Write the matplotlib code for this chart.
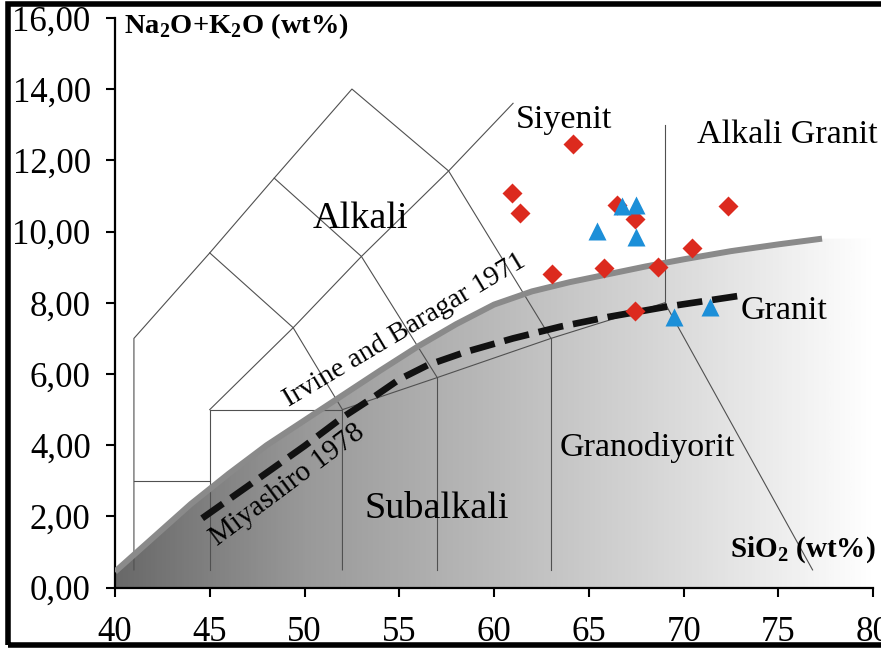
import numpy as np
import matplotlib
matplotlib.use("Agg")
import matplotlib.pyplot as plt
from matplotlib.colors import LinearSegmentedColormap
from matplotlib.patches import Polygon, Rectangle

plt.rcParams['font.family'] = ['Liberation Serif', 'DejaVu Serif']

# örnekler (SiO2, Na2O+K2O)
red_sio2 = [64.15, 60.97, 61.37, 66.47, 67.44, 72.36, 70.43, 68.62, 65.80, 63.04, 67.44]
red_alk = [12.46, 11.09, 10.53, 10.74, 10.34, 10.72, 9.53, 9.01, 8.97, 8.81, 7.78]
blue_sio2 = [66.74, 67.48, 65.45, 67.48, 69.50, 71.40]
blue_alk = [10.72, 10.74, 10.02, 9.85, 7.59, 7.89]

# Irvine and Baragar 1971 ayrım eğrisi
ib_sio2 = [40, 42, 44, 46, 48, 50, 52, 54, 56, 58, 60, 62, 64, 66, 68, 70, 72.5, 75, 77.3]
ib_alk = [0.45, 1.4, 2.35, 3.2, 4.0, 4.7, 5.4, 6.1, 6.78, 7.4, 7.95, 8.32, 8.58, 8.8,
          9.02, 9.22, 9.45, 9.64, 9.8]

# Miyashiro 1978 ayrım eğrisi
my_sio2 = [44.6, 47.0, 50.0, 52.0, 53.5, 55.0, 56.5, 58.5, 61.0, 63.5, 66.0, 69.0, 73.0]
my_alk = [1.95, 2.85, 3.98, 4.78, 5.3, 5.85, 6.25, 6.62, 7.0, 7.33, 7.6, 7.88, 8.2]

# TAS alan sınırları
tas_lines = [
    [(41, 0.5), (41, 7), (45, 9.4), (48.4, 11.5), (52.5, 14), (57.6, 11.7), (63, 7)],
    [(41, 3), (45, 3)],
    [(45, 0.5), (45, 5), (52, 5)],
    [(45, 5), (49.4, 7.3), (53, 9.3), (57.6, 11.7), (61, 13.6)],
    [(45, 9.4), (49.4, 7.3), (52, 5)],
    [(48.4, 11.5), (53, 9.3), (57, 5.9)],
    [(52, 0.5), (52, 5), (57, 5.9), (63, 7), (69, 8), (76.8, 0.5)],
    [(57, 0.5), (57, 5.9)],
    [(63, 0.5), (63, 7)],
    [(69, 8), (69, 13)],
]

x_ticks = [40, 45, 50, 55, 60, 65, 70, 75, 80]
y_ticks = [0, 2, 4, 6, 8, 10, 12, 14, 16]

fig = plt.figure(figsize=(8.81, 6.5), dpi=100)
ax = fig.add_axes([0.1305, 0.0958, 0.8607, 0.8768])
ax.set_xlim(40, 80)
ax.set_ylim(0, 16)

# subalkali alanı için gri geçişli dolgu
poly = [(40, 0)] + list(zip(ib_sio2, ib_alk)) + [(80, ib_alk[-1]), (80, 0)]
clip = Polygon(poly, closed=True, facecolor='none', edgecolor='none', transform=ax.transData)
ax.add_patch(clip)
grays = LinearSegmentedColormap.from_list('g', [
    (0.0, (0.41, 0.41, 0.41)),
    (0.25, (0.60, 0.60, 0.60)),
    (0.5, (0.73, 0.73, 0.73)),
    (0.75, (0.86, 0.86, 0.86)),
    (0.93, (0.96, 0.96, 0.96)),
    (1.0, (1.0, 1.0, 1.0)),
])
grad = np.linspace(0, 1, 400).reshape(1, -1)
im = ax.imshow(grad, cmap=grays, extent=[40, 80, 0, 10.5], aspect='auto',
               origin='lower', zorder=1)
im.set_clip_path(clip)

for seg in tas_lines:
    xs, ys = zip(*seg)
    ax.plot(xs, ys, color='#505050', lw=0.8, zorder=2)

ax.plot(ib_sio2, ib_alk, color='#8a8a8a', lw=4.3, solid_capstyle='butt',
        solid_joinstyle='round', zorder=3)
ax.plot(my_sio2, my_alk, color='#111111', lw=4.8, linestyle=(0, (3.8, 1.5)),
        dash_capstyle='butt', zorder=4)

ax.plot(red_sio2, red_alk, 'D', color='#dc2a1e', ms=9.8, mec='none', zorder=5)
ax.plot(blue_sio2, blue_alk, '^', color='#1c8fd8', ms=13, mec='none', zorder=6)

# alan adları
ax.text(52.95, 10.1, 'Alkali', fontsize=27.5, ha='center', va='baseline', zorder=7)
ax.text(56.97, 1.95, 'Subalkali', fontsize=27.5, ha='center', va='baseline', zorder=7)
ax.text(63.68, 12.9, 'Siyenit', fontsize=24.5, ha='center', va='baseline', zorder=7)
ax.text(70.7, 12.49, 'Alkali Granit', fontsize=24.5, ha='left', va='baseline', zorder=7)
ax.text(72.98, 7.54, 'Granit', fontsize=24.5, ha='left', va='baseline', zorder=7)
ax.text(63.45, 3.70, 'Granodiyorit', fontsize=24.5, ha='left', va='baseline', zorder=7)
ax.text(55.3, 7.22, 'Irvine and Baragar 1971', fontsize=20.5, rotation=30.8,
        ha='center', va='center', rotation_mode='anchor', zorder=7)
ax.text(49.1, 2.88, 'Miyashiro 1978', fontsize=21, rotation=36.8,
        ha='center', va='center', rotation_mode='anchor', zorder=7)

ax.text(40.47, 15.56, 'Na$_\\mathregular{2}$O+K$_\\mathregular{2}$O (wt%)', fontsize=20.5,
        fontweight='bold', ha='left', va='baseline', zorder=7)
ax.text(80.1, 0.87, 'SiO$_\\mathregular{2}$ (wt%)', fontsize=21, fontweight='bold',
        ha='right', va='baseline', zorder=7)

ax.set_xticks(x_ticks)
ax.set_xticklabels([str(v) for v in x_ticks])
ax.set_yticks(y_ticks)
ax.set_yticklabels([f'{v:.2f}'.replace('.', ',') for v in y_ticks])
ax.tick_params(axis='both', direction='out', length=6.5, width=1.5, labelsize=25)
ax.tick_params(axis='x', pad=14)
ax.tick_params(axis='y', pad=11)
for side in ['top', 'right']:
    ax.spines[side].set_visible(False)
for side in ['left', 'bottom']:
    ax.spines[side].set_linewidth(1.6)
ax.patch.set_alpha(0)

# resim çerçevesi
fig.patches.append(Rectangle((7.5 / 881, 5.5 / 650), 1.05, 1 - 9.5 / 650,
                             transform=fig.transFigure, fill=False,
                             edgecolor='black', lw=4, zorder=10))

fig.savefig('out.png', dpi=100)
